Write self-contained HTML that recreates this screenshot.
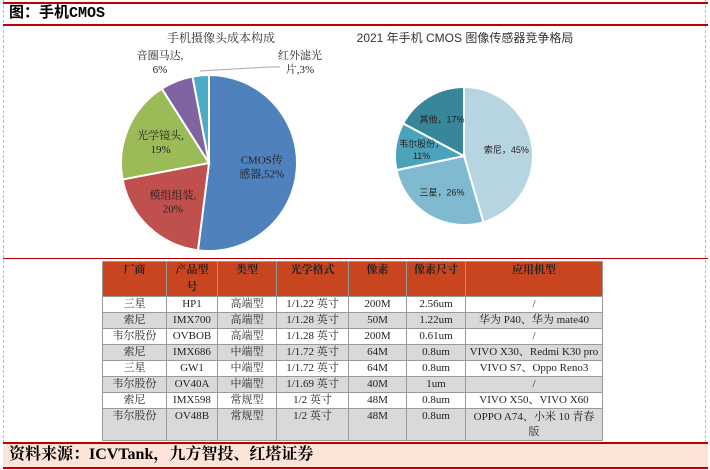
<!DOCTYPE html>
<html><head><meta charset="utf-8">
<style>
body{margin:0;width:710px;height:470px;background:#fff;position:relative;overflow:hidden;font-family:"Liberation Serif","Noto Serif CJK SC",serif;}
.abs{position:absolute}
table{border-collapse:collapse;position:absolute;left:102px;top:261px;width:501px;font-size:11px;}
td{border:1px solid #999;text-align:center;padding:0;line-height:15px;height:15px;color:#222}
th{background:#c8451f;border:1px solid #999;font-size:11px;font-weight:bold;color:#222;vertical-align:top;line-height:17px;height:32px;padding:0}
tr.g td{background:#d9d9d9}
</style></head><body>
<div class="abs" style="left:3px;top:0;height:468px;border-left:1px dashed #bbb"></div>
<div class="abs" style="left:705px;top:0;height:468px;border-left:1px dashed #bbb"></div>
<div class="abs" style="left:3px;top:2px;width:705px;height:2px;background:#c00000"></div>
<div class="abs" style="left:9px;top:4px;font-size:15px;font-weight:700;line-height:20px;font-family:'Liberation Mono','Noto Sans CJK SC',monospace">图：手机CMOS</div>
<div class="abs" style="left:3px;top:24px;width:705px;height:2px;background:#c00000"></div>
<div class="abs" style="left:3px;top:258px;width:705px;height:1px;background:#c00000"></div>

<svg class="abs" style="left:0;top:0" width="710" height="260">
<text x="221" y="42" font-size="12" text-anchor="middle" fill="#333">手机摄像头成本构成</text>
<text x="465" y="42" font-size="12" text-anchor="middle" fill="#333" font-family="Liberation Sans,Noto Sans CJK SC,sans-serif">2021 年手机 CMOS 图像传感器竞争格局</text>
<g id="pl"></g><g id="pr"></g>
<polyline points="200,71 268,67 280,67" fill="none" stroke="#aaa" stroke-width="1"/>
</svg>

<table>
<tr><th style="width:63px">厂商</th><th style="width:50px">产品型<br>号</th><th style="width:58px">类型</th><th style="width:71px">光学格式</th><th style="width:57px">像素</th><th style="width:58px">像素尺寸</th><th>应用机型</th></tr>
<tr><td>三星</td><td>HP1</td><td>高端型</td><td>1/1.22 英寸</td><td>200M</td><td>2.56um</td><td>/</td></tr>
<tr class="g"><td>索尼</td><td>IMX700</td><td>高端型</td><td>1/1.28 英寸</td><td>50M</td><td>1.22um</td><td>华为 P40、华为 mate40</td></tr>
<tr><td>韦尔股份</td><td>OVBOB</td><td>高端型</td><td>1/1.28 英寸</td><td>200M</td><td>0.61um</td><td>/</td></tr>
<tr class="g"><td>索尼</td><td>IMX686</td><td>中端型</td><td>1/1.72 英寸</td><td>64M</td><td>0.8um</td><td>VIVO X30、Redmi K30 pro</td></tr>
<tr><td>三星</td><td>GW1</td><td>中端型</td><td>1/1.72 英寸</td><td>64M</td><td>0.8um</td><td>VIVO S7、Oppo Reno3</td></tr>
<tr class="g"><td>韦尔股份</td><td>OV40A</td><td>中端型</td><td>1/1.69 英寸</td><td>40M</td><td>1um</td><td>/</td></tr>
<tr><td>索尼</td><td>IMX598</td><td>常规型</td><td>1/2 英寸</td><td>48M</td><td>0.8um</td><td>VIVO X50、VIVO X60</td></tr>
<tr class="g"><td style="vertical-align:top;height:31px">韦尔股份</td><td style="vertical-align:top">OV48B</td><td style="vertical-align:top">常规型</td><td style="vertical-align:top">1/2 英寸</td><td style="vertical-align:top">48M</td><td style="vertical-align:top">0.8um</td><td>OPPO A74、小米 10 青春<br>版</td></tr>
</table>

<div class="abs" style="left:3px;top:442px;width:705px;height:23px;background:#fde4d8;border-top:2px solid #c00000;border-bottom:2px solid #c00000"></div>
<div class="abs" style="left:9px;top:444px;font-size:16px;font-weight:bold;line-height:22px;font-family:'Liberation Serif','Noto Serif CJK SC',serif">资料来源：ICVTank，九方智投、红塔证券</div>

<script>
const leftCats=["CMOS传感器","模组组装","光学镜头","音圈马达","红外滤光片"];
const leftVals=[52,20,19,6,3];
const rightCats=["索尼","三星","韦尔股份","其他"];
const rightVals=[45,26,11,17];
const leftColors=["#4f81bd","#c0504d","#9bbb59","#8064a2","#4bacc6"];
const rightColors=["#b7d5e0","#80bad0","#4aa3bb","#37869a"];
const NS="http://www.w3.org/2000/svg";
function pie(g,vals,cx,cy,r,colors,name){
  const tot=vals.reduce((a,b)=>a+b,0);let a0=0;const mids=[];
  vals.forEach((v,i)=>{
    const a1=a0+v/tot*2*Math.PI;
    const x0=cx+r*Math.sin(a0),y0=cy-r*Math.cos(a0),x1=cx+r*Math.sin(a1),y1=cy-r*Math.cos(a1);
    const p=document.createElementNS(NS,"path");
    p.setAttribute("d",`M${cx},${cy}L${x0},${y0}A${r},${r} 0 ${a1-a0>Math.PI?1:0} 1 ${x1},${y1}Z`);
    p.setAttribute("fill",colors[i]);p.setAttribute("stroke","#fff");p.setAttribute("stroke-width","2");
    
    
    g.appendChild(p);mids.push((a0+a1)/2);a0=a1;
  });
  return mids;
}
function lbl(g,x,y,lines,size,fam){
  lines.forEach((t,k)=>{
    const e=document.createElementNS(NS,"text");
    e.setAttribute("x",x);e.setAttribute("y",y+k*(size+3));e.setAttribute("font-size",size);
    e.setAttribute("text-anchor","middle");e.setAttribute("fill","#222");
    if(fam)e.setAttribute("font-family",fam);
    e.textContent=t;
    
    
    g.appendChild(e);
  });
}
const gl=document.getElementById("pl"),gr=document.getElementById("pr");
const ml=pie(gl,leftVals,209,163,88,leftColors,"cost");
ml.forEach((a,i)=>{
  let x,y;
  if(i<3){x=209+88*0.6*Math.sin(a);y=163-88*0.6*Math.cos(a);}
  else if(i==3){x=160;y=62;}else{x=300;y=62;}
  const c=leftCats[i];const p=leftVals[i]+"%";
  let lines;
  if(i==0)lines=["CMOS传","感器,"+p];else if(i==4)lines=["红外滤光","片,"+p];else lines=[c+",",p];
  lbl(gl,x,y-3,lines,11);
});
const mr=pie(gr,rightVals,464,156,69,rightColors,"share");
mr.forEach((a,i)=>{
  const x=464+69*0.62*Math.sin(a),y=156-69*0.62*Math.cos(a);
  const lines=i==2?[rightCats[i]+"，",rightVals[i]+"%"]:[rightCats[i]+"，"+rightVals[i]+"%"];
  lbl(gr,x,y+(i==2?-3:3),lines,9,"Liberation Sans,Noto Sans CJK SC,sans-serif");
});
</script>
</body></html>
